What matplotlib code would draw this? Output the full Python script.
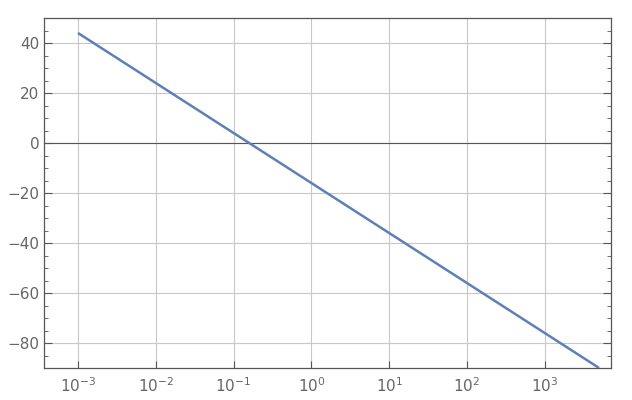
import matplotlib
matplotlib.use("Agg")
import matplotlib.pyplot as plt
from matplotlib.ticker import MultipleLocator, FixedLocator, NullLocator

# Magnitude (dB) at each decade
freq = [1e-3, 1e-2, 1e-1, 1e0, 1e1, 1e2, 1e3, 5e3]
mag_db = [44, 24, 4, -16, -36, -56, -76, -90]

xticks = [1e-3, 1e-2, 1e-1, 1e0, 1e1, 1e2, 1e3]
xlabels = ["$10^{-3}$", "$10^{-2}$", "$10^{-1}$", "$10^{0}$", "$10^{1}$", "$10^{2}$", "$10^{3}$"]
yticks = [-80, -60, -40, -20, 0, 20, 40]

fig = plt.figure(figsize=(6.32, 4.0), dpi=100)
ax = fig.add_axes([44 / 632, 1 - 368 / 400, (611 - 44) / 632, (368 - 18) / 400])

ax.plot(freq, mag_db, color="#5E81B5", lw=1.8, solid_capstyle="butt", zorder=3)

ax.set_xscale("log")
ax.set_xlim(10 ** -3.437, 10 ** 3.852)
ax.set_ylim(-90, 50)

ax.xaxis.set_major_locator(FixedLocator(xticks))
ax.xaxis.set_minor_locator(NullLocator())
ax.set_xticklabels(xlabels)
ax.yaxis.set_major_locator(FixedLocator(yticks))
ax.yaxis.set_minor_locator(MultipleLocator(5))

ax.grid(True, which="major", color="#c8c8c8", lw=0.8)
ax.axhline(0, color="#555555", lw=0.8, zorder=2)

for s in ax.spines.values():
    s.set_color("#555555")
    s.set_linewidth(0.9)

ax.tick_params(axis="both", which="both", direction="in", colors="#555555",
               labelcolor="#666666", labelsize=11)
ax.tick_params(axis="y", which="both", left=True, right=True)
ax.tick_params(axis="y", which="major", length=6)
ax.tick_params(axis="y", which="minor", length=3)
ax.tick_params(axis="x", which="major", length=5, top=False, pad=6)

fig.savefig("out.png", dpi=100)
